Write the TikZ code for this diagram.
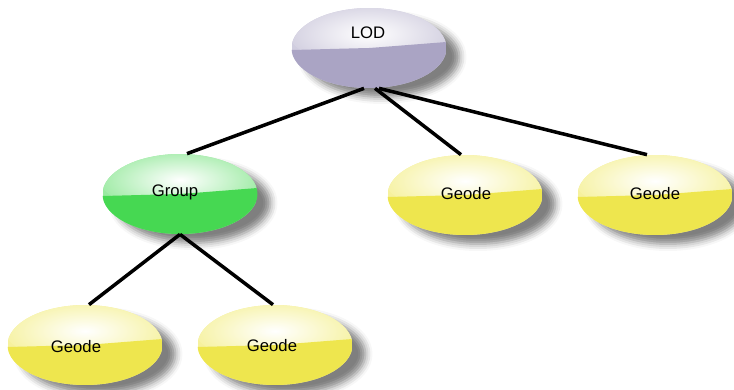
\documentclass[tikz,border=0pt]{standalone}
\usepackage{fontspec}
\setmainfont{Liberation Sans}
\usetikzlibrary{shapes.geometric,shadows.blur}
\definecolor{lodc}{RGB}{170,164,196}
\definecolor{grpc}{RGB}{70,216,82}
\definecolor{geoc}{RGB}{238,230,78}
\tikzset{
 glossy/.style={ellipse, minimum width=3.1cm, minimum height=1.6cm, inner sep=0pt,
   blur shadow={shadow xshift=0.26cm, shadow yshift=-0.18cm, shadow blur radius=0.14cm, shadow opacity=50},
   path picture={
     \fill[#1!55] (path picture bounding box.south west) rectangle (path picture bounding box.north east);
     \shade[inner color=white, middle color=white, outer color=#1!50] ([yshift=0.28cm]path picture bounding box.center) ellipse [x radius=1.6cm, y radius=0.62cm];
     \fill[#1] ([yshift=-0.04cm]path picture bounding box.west) .. controls +(0.8,0.02) and +(-0.6,-0.06) .. ([yshift=0.0cm]path picture bounding box.center) .. controls +(0.6,0.06) and +(-0.5,0) .. ([yshift=0.12cm]path picture bounding box.east) -- (path picture bounding box.south east) -- (path picture bounding box.south west) -- cycle;
   }},
 lbl/.style={font=\fontsize{9.5}{11}\selectfont, text=black, inner sep=0pt},
 edge/.style={line width=2pt}
}
\begin{document}
\begin{tikzpicture}[x=0.02cm,y=-0.02cm]
\useasboundingbox (0,0) rectangle (734,389);
\node[glossy=lodc] (lod) at (369,48) {};
\node[glossy=grpc] (grp) at (180,194) {};
\node[glossy=geoc] (g1) at (465,195) {};
\node[glossy=geoc] (g2) at (655,195) {};
\node[glossy=geoc] (g3) at (85,345) {};
\node[glossy=geoc] (g4) at (275,345) {};
\node[lbl] (tlod) at (368,33) {LOD};
\node[lbl] (tgrp) at (175,192) {Group};
\node[lbl] (tg1) at (466,194) {Geode};
\node[lbl] (tg2) at (655,194) {Geode};
\node[lbl] (tg3) at (76,347) {Geode};
\node[lbl] (tg4) at (272,346) {Geode};
\draw[edge] ([xshift=-0.1cm]lod.south) -- ([xshift=0.14cm]grp.north);
\draw[edge] ([xshift=0.12cm]lod.south) -- ([xshift=-0.08cm]g1.north);
\draw[edge] ([xshift=0.2cm]lod.south) -- ([xshift=-0.16cm]g2.north);
\draw[edge] (grp.south) -- ([xshift=0.08cm]g3.north);
\draw[edge] (grp.south) -- ([xshift=-0.04cm]g4.north);
\end{tikzpicture}
\end{document}
